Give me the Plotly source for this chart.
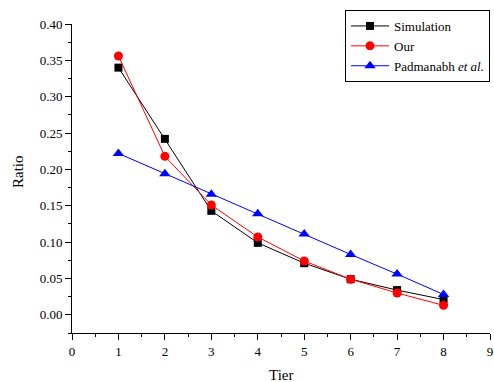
import plotly.graph_objects as go

tiers = [1, 2, 3, 4, 5, 6, 7, 8]
simulation = [0.340, 0.242, 0.143, 0.099, 0.071, 0.049, 0.034, 0.021]
our = [0.356, 0.218, 0.151, 0.107, 0.074, 0.049, 0.030, 0.013]
padmanabh = [0.222, 0.194, 0.166, 0.139, 0.111, 0.083, 0.056, 0.028]

font_family = "Liberation Serif"

W, H = 494, 382
ML, MR, MT, MB = 72, 4, 24, 49
plot_w = W - ML - MR
plot_h = H - MT - MB
plot_bottom = H - MB

fig = go.Figure()
fig.add_trace(go.Scatter(x=tiers, y=simulation, mode="lines+markers", name="Simulation",
                         line=dict(color="black", width=1),
                         marker=dict(symbol="square", size=8, color="black")))
fig.add_trace(go.Scatter(x=tiers, y=our, mode="lines+markers", name="Our",
                         line=dict(color="red", width=1),
                         marker=dict(symbol="circle", size=9, color="red")))
fig.add_trace(go.Scatter(x=tiers, y=padmanabh, mode="lines+markers", name="Padmanabh <i>et al.</i>",
                         line=dict(color="blue", width=1),
                         marker=dict(symbol="triangle-up", size=10, color="blue")))

fig.update_layout(
    width=W, height=H,
    margin=dict(l=ML, r=MR, t=MT, b=MB, autoexpand=False),
    plot_bgcolor="white", paper_bgcolor="white",
    font=dict(family=font_family, size=13, color="black"),
    showlegend=True,
    legend=dict(xref="container", yref="container",
                x=345 / W, y=1 - 10 / H, xanchor="left", yanchor="top",
                bordercolor="black", borderwidth=1, bgcolor="white",
                font=dict(family=font_family, size=13),
                tracegroupgap=0, itemwidth=38),
    annotations=[
        dict(text="Tier", xref="paper", yref="paper", x=0.5, y=(plot_bottom - 375) / plot_h,
             xanchor="center", yanchor="middle", showarrow=False,
             font=dict(family=font_family, size=15)),
        dict(text="Ratio", textangle=-90, xref="paper", yref="paper",
             x=(18 - ML) / plot_w, y=(plot_bottom - 172) / plot_h,
             xanchor="center", yanchor="middle", showarrow=False,
             font=dict(family=font_family, size=15)),
    ],
)

fig.update_xaxes(range=[0, 9], tickmode="linear", tick0=0, dtick=1, automargin=False,
                 showline=True, linecolor="black", linewidth=1,
                 ticks="outside", ticklen=6, tickcolor="black",
                 minor=dict(ticks="outside", ticklen=3, dtick=0.5, tickcolor="black"),
                 showgrid=False, zeroline=False)
fig.update_yaxes(range=[-0.025, 0.40], tickmode="linear", tick0=0, dtick=0.05,
                 tickformat=".2f", automargin=False,
                 showline=True, linecolor="black", linewidth=1,
                 ticks="outside", ticklen=6, tickcolor="black",
                 minor=dict(ticks="outside", ticklen=3, dtick=0.025, tickcolor="black"),
                 showgrid=False, zeroline=False)

fig.write_html("out.html",
               config={"displayModeBar": False},
               post_script="document.body.style.margin='0px';"
                           "document.documentElement.style.overflow='hidden';")
